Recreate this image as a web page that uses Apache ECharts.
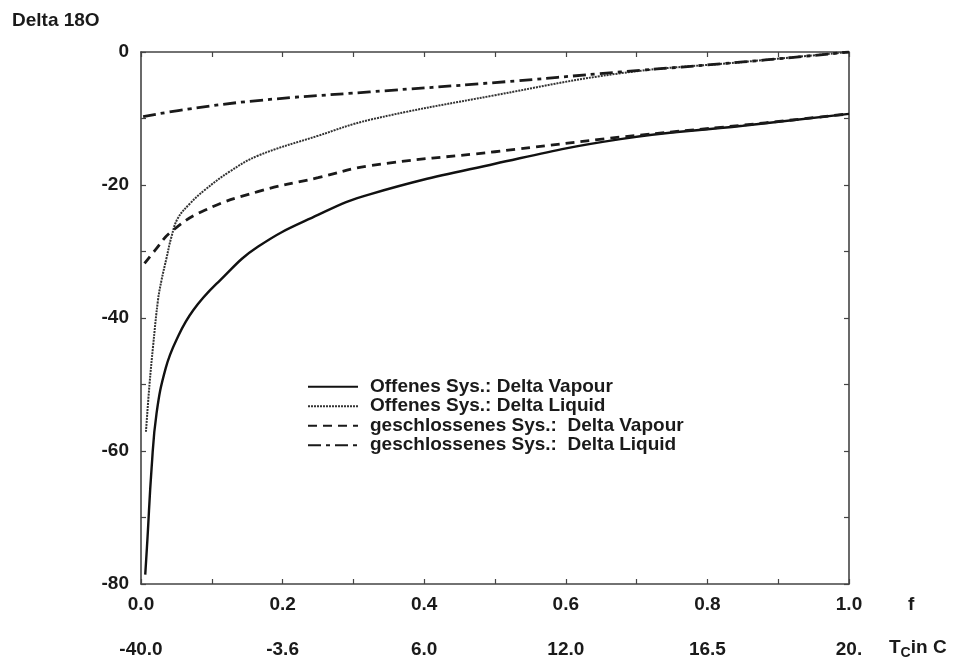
<!DOCTYPE html>
<html>
<head>
<meta charset="utf-8">
<script src="https://cdn.jsdelivr.net/npm/echarts@6/dist/echarts.min.js"></script>
<style>
html,body{margin:0;padding:0;background:#fff;}
#chart{width:954px;height:665px;}
</style>
</head>
<body>
<div id="chart"></div>
<script>
// ---- data ----
const yTitle = 'Delta 18O';
const seriesNames = [
  'Offenes Sys.: Delta Vapour',
  'Offenes Sys.: Delta Liquid',
  'geschlossenes Sys.:  Delta Vapour',
  'geschlossenes Sys.:  Delta Liquid'
];
const fOpenVapour = [0.006,0.009,0.015,0.022,0.035,0.05,0.074,0.112,0.165,0.25,0.323,0.5,0.677,0.85,1.0];
const dOpenVapour = [-78.6,-73.4,-62.5,-54.3,-47.5,-43.3,-38.8,-34.3,-29.3,-24.5,-21.4,-16.8,-13.1,-11.1,-9.3];
const fOpenLiquid = [0.007,0.012,0.017,0.024,0.029,0.036,0.043,0.052,0.07,0.09,0.125,0.165,0.25,0.323,0.5,0.677,0.85,1.0];
const dOpenLiquid = [-57.1,-50.0,-44.3,-37.3,-34.3,-31.0,-27.8,-25.0,-22.7,-20.75,-18.0,-15.6,-12.6,-10.2,-6.5,-3.2,-1.5,0];
const fClosedVapour = [0.005,0.02,0.043,0.09,0.165,0.25,0.323,0.5,0.677,0.85,1.0];
const dClosedVapour = [-31.8,-29.8,-27.0,-23.8,-21.0,-18.9,-17.1,-15.0,-12.8,-11.0,-9.3];
const fClosedLiquid = [0.003,0.066,0.165,0.323,0.5,0.677,0.85,1.0];
const dClosedLiquid = [-9.7,-8.6,-7.3,-6.0,-4.6,-3.0,-1.5,0];
const fTicks = [0, 0.2, 0.4, 0.6, 0.8, 1.0];
const tempLabels = ['-40.0', '-3.6', '6.0', '12.0', '16.5', '20.'];

const pair = (xs, ys) => xs.map((x, i) => [x, ys[i]]);

const FONT = 'Liberation Sans, Arial, sans-serif';
const TXT = '#1a1a1a';
const AX = '#444';

const chart = echarts.init(document.getElementById('chart'), null, {renderer: 'canvas'});

const tickIn = {show: true, inside: true, length: 5, lineStyle: {color: AX, width: 1.2}};
const minorIn = {show: true, splitNumber: 2, length: 5, lineStyle: {color: AX, width: 1.2}};

const option = {
  backgroundColor: '#fff',
  animation: false,
  grid: {left: 141, top: 52, width: 708, height: 532, show: false},
  xAxis: [
    {
      type: 'value', min: 0, max: 1, interval: 0.2, position: 'bottom',
      axisLine: {show: true, onZero: false, lineStyle: {color: AX, width: 1.6}},
      axisTick: tickIn, minorTick: minorIn, splitLine: {show: false},
      axisLabel: {color: TXT, fontFamily: FONT, fontSize: 19, fontWeight: 'bold', margin: 11,
        formatter: v => v.toFixed(1)}
    },
    {
      type: 'value', min: 0, max: 1, interval: 0.2, position: 'top',
      axisLine: {show: true, onZero: false, lineStyle: {color: AX, width: 1.6}},
      axisTick: tickIn, minorTick: minorIn, splitLine: {show: false},
      axisLabel: {show: false}
    },
    {
      type: 'value', min: 0, max: 1, interval: 0.2, position: 'bottom', offset: 45,
      axisLine: {show: false}, axisTick: {show: false}, splitLine: {show: false},
      axisLabel: {color: TXT, fontFamily: FONT, fontSize: 19, fontWeight: 'bold', margin: 11,
        formatter: v => {
          const i = fTicks.findIndex(t => Math.abs(t - v) < 1e-6);
          return i >= 0 ? tempLabels[i] : '';
        }}
    }
  ],
  yAxis: [
    {
      type: 'value', min: -80, max: 0, interval: 20, position: 'left',
      axisLine: {show: true, onZero: false, lineStyle: {color: AX, width: 1.6}},
      axisTick: tickIn, minorTick: minorIn, splitLine: {show: false},
      axisLabel: {color: TXT, fontFamily: FONT, fontSize: 19, fontWeight: 'bold', margin: 12}
    },
    {
      type: 'value', min: -80, max: 0, interval: 20, position: 'right',
      axisLine: {show: true, onZero: false, lineStyle: {color: AX, width: 1.6}},
      axisTick: tickIn, minorTick: minorIn, splitLine: {show: false},
      axisLabel: {show: false}
    }
  ],
  legend: {
    orient: 'vertical', left: 302, top: 372,
    itemWidth: 50, itemHeight: 14, itemGap: 0,
    itemStyle: {opacity: 0},
    textStyle: {color: TXT, fontFamily: FONT, fontSize: 19, fontWeight: 'bold',
      lineHeight: 19.5, padding: [0, 0, 0, 7]},
    data: seriesNames
  },
  series: [
    {
      name: seriesNames[0], type: 'line', xAxisIndex: 0, yAxisIndex: 0,
      data: pair(fOpenVapour, dOpenVapour), showSymbol: false, symbol: 'none',
      smooth: 0.45,
      lineStyle: {color: '#111', width: 2.4, type: 'solid'}, itemStyle: {color: '#111'}
    },
    {
      name: seriesNames[1], type: 'line', xAxisIndex: 0, yAxisIndex: 0,
      data: pair(fOpenLiquid, dOpenLiquid), showSymbol: false, symbol: 'none',
      smooth: 0.4,
      lineStyle: {color: '#333', width: 2, type: [2, 1]}, itemStyle: {color: '#333'}
    },
    {
      name: seriesNames[2], type: 'line', xAxisIndex: 0, yAxisIndex: 0,
      data: pair(fClosedVapour, dClosedVapour), showSymbol: false, symbol: 'none',
      smooth: 0.45,
      lineStyle: {color: '#1a1a1a', width: 2.8, type: [9, 6]}, itemStyle: {color: '#1a1a1a'}
    },
    {
      name: seriesNames[3], type: 'line', xAxisIndex: 0, yAxisIndex: 0,
      data: pair(fClosedLiquid, dClosedLiquid), showSymbol: false, symbol: 'none',
      smooth: 0.45,
      lineStyle: {color: '#1a1a1a', width: 2.8, type: [13, 5, 4, 5]}, itemStyle: {color: '#1a1a1a'}
    }
  ],
  graphic: [
    {type: 'text', left: 12, top: 11,
     style: {text: yTitle, fill: TXT, font: 'bold 19px ' + FONT}},
    {type: 'text', left: 908, top: 595,
     style: {text: 'f', fill: TXT, font: 'bold 19px ' + FONT}},
    {type: 'text', left: 889, top: 638,
     style: {text: '{t|T}{s|C}{t|in C}', fill: TXT,
       rich: {
         t: {font: 'bold 19px ' + FONT, fill: TXT},
         s: {font: 'bold 14px ' + FONT, fill: TXT, padding: [12, 0, 0, 0]}
       }}}
  ]
};
chart.setOption(option);
</script>
</body>
</html>
